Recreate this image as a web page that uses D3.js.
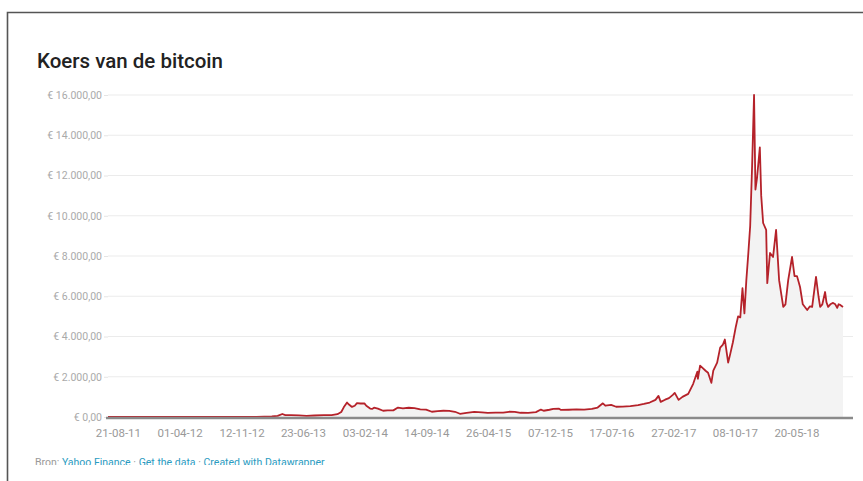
<!DOCTYPE html>
<html><head><meta charset="utf-8">
<script src="https://cdn.jsdelivr.net/npm/d3@7"></script>
<style>body{margin:0;background:#fff;}svg{display:block;font-family:Roboto,"Noto Sans",sans-serif;}</style>
</head><body>
<script>
const title = "Koers van de bitcoin";
const dates = ["2011-07-16","2011-08-06","2011-09-03","2011-10-01","2011-11-05","2011-12-03","2012-01-07","2012-02-04","2012-03-03","2012-04-07","2012-05-05","2012-06-02","2012-07-07","2012-08-04","2012-09-01","2012-10-06","2012-11-03","2012-12-01","2013-01-05","2013-02-02","2013-03-02","2013-03-23","2013-04-09","2013-04-20","2013-05-11","2013-06-08","2013-07-06","2013-08-03","2013-09-07","2013-10-05","2013-10-26","2013-11-09","2013-11-18","2013-11-30","2013-12-07","2013-12-18","2013-12-28","2014-01-05","2014-01-18","2014-02-01","2014-02-08","2014-02-22","2014-03-01","2014-03-08","2014-03-22","2014-04-10","2014-04-26","2014-05-17","2014-06-03","2014-06-21","2014-07-12","2014-08-02","2014-08-23","2014-09-13","2014-10-04","2014-10-25","2014-11-15","2014-12-06","2014-12-27","2015-01-14","2015-02-07","2015-03-07","2015-04-04","2015-04-25","2015-05-23","2015-06-20","2015-07-11","2015-08-01","2015-08-22","2015-09-19","2015-10-17","2015-11-04","2015-11-14","2015-12-05","2015-12-19","2016-01-09","2016-01-16","2016-02-13","2016-03-12","2016-04-09","2016-05-07","2016-05-28","2016-06-16","2016-06-25","2016-07-16","2016-08-03","2016-08-27","2016-09-24","2016-10-22","2016-11-12","2016-12-03","2016-12-24","2017-01-04","2017-01-12","2017-01-28","2017-02-11","2017-02-25","2017-03-04","2017-03-18","2017-04-01","2017-04-22","2017-05-10","2017-05-25","2017-05-27","2017-06-04","2017-06-12","2017-06-24","2017-07-03","2017-07-15","2017-07-22","2017-08-05","2017-08-16","2017-08-26","2017-09-02","2017-09-14","2017-09-21","2017-10-01","2017-10-12","2017-10-20","2017-10-28","2017-11-05","2017-11-12","2017-11-19","2017-11-26","2017-12-03","2017-12-10","2017-12-17","2017-12-22","2017-12-28","2018-01-07","2018-01-12","2018-01-19","2018-01-30","2018-02-03","2018-02-13","2018-02-24","2018-03-07","2018-03-18","2018-04-02","2018-04-10","2018-04-20","2018-05-04","2018-05-13","2018-05-22","2018-06-02","2018-06-12","2018-06-28","2018-07-08","2018-07-16","2018-07-30","2018-08-08","2018-08-14","2018-08-22","2018-09-01","2018-09-06","2018-09-12","2018-09-20","2018-09-30","2018-10-08","2018-10-15","2018-10-20","2018-10-26","2018-11-05"];
const prices = [11,8,6,3.5,2.3,2.5,5,4.5,3.8,3.7,4,4.5,5.5,8,8,9.5,8.5,9.5,10,16,27,55,150,95,90,80,60,75,95,90,140,250,480,720,620,500,560,690,670,680,560,420,400,460,420,310,330,330,470,430,460,440,380,370,260,290,310,300,260,160,200,250,230,205,215,220,260,255,210,205,240,370,310,360,400,410,350,360,375,370,400,470,680,560,600,510,515,540,590,650,720,850,1050,750,860,940,1100,1200,850,1000,1150,1650,2250,1900,2550,2450,2300,2200,1700,2300,2700,3450,3600,3850,2700,3100,3700,4500,5000,4950,6400,5150,6800,8100,9500,12500,16000,11300,11900,13400,11000,9640,9300,6650,8150,7950,9300,6800,5470,5600,6800,7950,7000,7000,6460,5600,5320,5500,5470,6960,6000,5470,5600,6210,5700,5470,5600,5670,5600,5420,5600,5570,5470];
const yTicks = [0,2000,4000,6000,8000,10000,12000,14000,16000];
const xTickDates = ["2011-08-21","2012-04-01","2012-11-12","2013-06-23","2014-02-03","2014-09-14","2015-04-26","2015-12-07","2016-07-17","2017-02-27","2017-10-08","2018-05-20"];
const footerParts = [["Bron: ","#999"],["Yahoo Finance","#2a9bc1"],[" · ","#999"],["Get the data","#2a9bc1"],[" · ","#999"],["Created with Datawrapper","#2a9bc1"]];

const W = 863, H = 481;
const parse = d3.timeParse("%Y-%m-%d");
const data = dates.map((d,i)=>({date:parse(d), v:prices[i]}));
const nl = d3.formatLocale({decimal:",", thousands:".", grouping:[3], currency:["€ ",""]});
const fmtY = nl.format("$,.2f");
const fmtX = d3.timeFormat("%d-%m-%y");

const svg = d3.select("body").append("svg").attr("width",W).attr("height",H);
svg.append("rect").attr("width",W).attr("height",H).attr("fill","#fff");
svg.append("path").attr("d","M7.5,481V12.5H863").attr("fill","none").attr("stroke","#555").attr("stroke-width",1.6);

svg.append("text").attr("x",37).attr("y",68).attr("font-size",20.5).attr("font-weight",500).attr("fill","#222").text(title);

const x = d3.scaleTime().domain([data[0].date, data[data.length-1].date]).range([108,843]);
const y = d3.scaleLinear().domain([0,16000]).range([417,95]);

const grid = svg.append("g");
grid.selectAll("line").data(yTicks.filter(t=>t>0)).join("line")
  .attr("x1",108).attr("x2",853).attr("y1",d=>y(d)).attr("y2",d=>y(d))
  .attr("stroke","#ebebeb").attr("stroke-width",1);

const yAxis = svg.append("g").attr("transform","translate(108,0)")
  .call(d3.axisLeft(y).tickValues(yTicks).tickFormat(fmtY).tickSize(4).tickPadding(2));
yAxis.select(".domain").remove();
yAxis.selectAll("line").attr("stroke","#e4e4e4");
yAxis.selectAll("text").attr("fill","#aaa").attr("font-size",10.5).attr("font-family","Roboto,sans-serif");

const area = d3.area().x(d=>x(d.date)).y0(y(0)).y1(d=>y(d.v));
svg.append("path").datum(data).attr("d",area).attr("fill","#f3f3f3");

const line = d3.line().x(d=>x(d.date)).y(d=>y(d.v));
svg.append("path").datum(data).attr("d",line).attr("fill","none").attr("stroke","#b5222a").attr("stroke-width",1.8).attr("stroke-linejoin","round");

svg.append("line").attr("x1",106).attr("x2",853).attr("y1",y(0)+1).attr("y2",y(0)+1).attr("stroke","#8a8a8a").attr("stroke-width",2.5);

const xAxis = svg.append("g").attr("transform",`translate(0,${y(0)})`)
  .call(d3.axisBottom(x).tickValues(xTickDates.map(parse)).tickFormat(fmtX).tickSize(0).tickPadding(12));
xAxis.select(".domain").remove();
xAxis.selectAll("text").attr("fill","#999").attr("font-size",11.5).attr("font-family","Roboto,sans-serif");

const clip = svg.append("clipPath").attr("id","fc").append("rect").attr("x",0).attr("y",440).attr("width",W).attr("height",25);
const ft = svg.append("text").attr("x",35).attr("y",466).attr("font-size",10.5).attr("clip-path","url(#fc)");
ft.selectAll("tspan").data(footerParts).join("tspan").attr("fill",d=>d[1]).text(d=>d[0]);
</script>
</body></html>
